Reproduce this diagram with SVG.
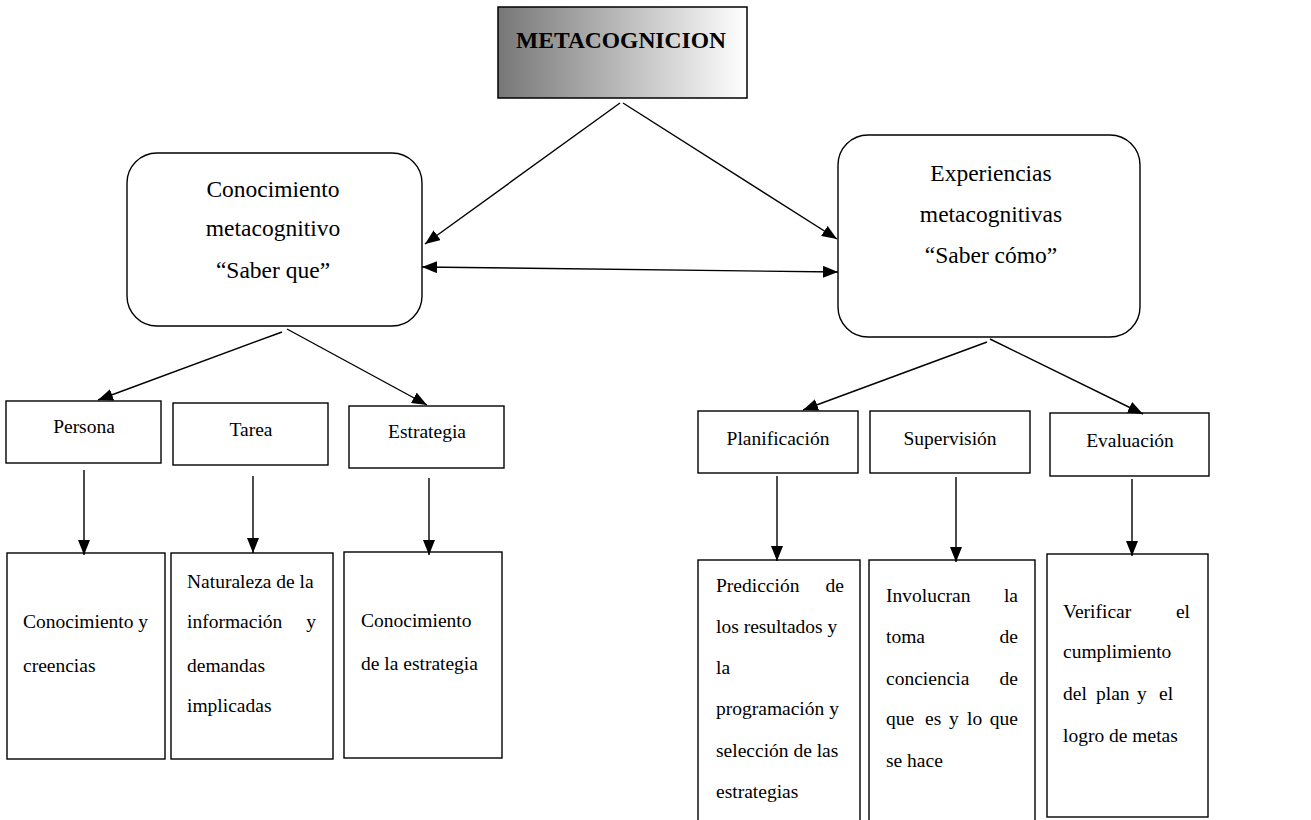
<svg xmlns="http://www.w3.org/2000/svg" width="1311" height="820" viewBox="0 0 1311 820">
<style>
.box{fill:#fff;stroke:#000;stroke-width:1.4}
.t{font-family:"Liberation Serif","Times New Roman",serif;font-size:19.5px;fill:#000}
.tb{font-family:"Liberation Serif","Times New Roman",serif;font-size:23.5px;fill:#000}
.ttl{font-family:"Liberation Serif","Times New Roman",serif;font-size:23.5px;font-weight:bold;fill:#000}
.c{text-anchor:middle}
.e{text-anchor:end}
.ln{fill:none;stroke:#000;stroke-width:1.4}
</style>
<defs>
<linearGradient id="g" x1="0" y1="0" x2="1" y2="0">
<stop offset="0" stop-color="#777"/>
<stop offset="1" stop-color="#fff"/>
</linearGradient>
<marker id="ah" markerWidth="15" markerHeight="12" refX="15" refY="6" orient="auto-start-reverse" markerUnits="userSpaceOnUse">
<path d="M0,0 L15,6 L0,12 z" fill="#000"/>
</marker>
</defs>
<rect width="1311" height="820" fill="#fff"/>

<g id="metacognicion">
<rect x="498" y="7" width="249" height="91" fill="url(#g)" stroke="#000" stroke-width="1.5"/>
<text class="ttl c" x="621" y="48">METACOGNICION</text>
</g>

<g id="conocimiento">
<rect class="box" x="127" y="153" width="295" height="173" rx="30" ry="30"/>
<text class="tb c" x="273" y="197">Conocimiento</text>
<text class="tb c" x="273" y="236">metacognitivo</text>
<text class="tb c" x="273" y="278">“Saber que”</text>
</g>

<g id="experiencias">
<rect class="box" x="838" y="135" width="302" height="202" rx="30" ry="30"/>
<text class="tb c" x="991" y="181">Experiencias</text>
<text class="tb c" x="991" y="222">metacognitivas</text>
<text class="tb c" x="991" y="263">“Saber cómo”</text>
</g>

<g id="persona">
<rect class="box" x="6" y="401" width="155" height="62"/>
<text class="t c" x="84" y="433">Persona</text>
</g>
<g id="tarea">
<rect class="box" x="173" y="403" width="155" height="62"/>
<text class="t c" x="251" y="436">Tarea</text>
</g>
<g id="estrategia">
<rect class="box" x="349" y="406" width="155" height="62"/>
<text class="t c" x="427" y="438">Estrategia</text>
</g>
<g id="planificacion">
<rect class="box" x="698" y="411" width="160" height="62"/>
<text class="t c" x="778" y="445">Planificación</text>
</g>
<g id="supervision">
<rect class="box" x="870" y="411" width="160" height="62"/>
<text class="t c" x="950" y="445">Supervisión</text>
</g>
<g id="evaluacion">
<rect class="box" x="1050" y="413" width="159" height="63"/>
<text class="t c" x="1130" y="447">Evaluación</text>
</g>

<g id="creencias">
<rect class="box" x="7" y="553" width="158" height="206"/>
<text class="t" x="23" y="628">Conocimiento y</text>
<text class="t" x="23" y="672">creencias</text>
</g>
<g id="naturaleza">
<rect class="box" x="171" y="553" width="162" height="206"/>
<text class="t" x="187" y="588">Naturaleza de la</text>
<text class="t" x="187" y="628">información</text>
<text class="t e" x="316" y="628">y</text>
<text class="t" x="187" y="672">demandas</text>
<text class="t" x="187" y="712">implicadas</text>
</g>
<g id="conoc-estrategia">
<rect class="box" x="344" y="552" width="158" height="206"/>
<text class="t" x="361" y="627">Conocimiento</text>
<text class="t" x="361" y="670">de la estrategia</text>
</g>
<g id="prediccion">
<rect class="box" x="698" y="560" width="162" height="275"/>
<text class="t" x="716" y="592">Predicción</text>
<text class="t e" x="844" y="592">de</text>
<text class="t" x="716" y="633">los resultados y</text>
<text class="t" x="716" y="674">la</text>
<text class="t" x="716" y="715">programación y</text>
<text class="t" x="716" y="757">selección de las</text>
<text class="t" x="716" y="798">estrategias</text>
</g>
<g id="involucran">
<rect class="box" x="869" y="560" width="166" height="275"/>
<text class="t" x="886" y="602">Involucran</text>
<text class="t e" x="1018" y="602">la</text>
<text class="t" x="886" y="643">toma</text>
<text class="t e" x="1018" y="643">de</text>
<text class="t" x="886" y="685">conciencia</text>
<text class="t e" x="1018" y="685">de</text>
<text class="t" x="886" y="725">que</text>
<text class="t" x="925" y="725">es</text>
<text class="t" x="949" y="725">y</text>
<text class="t" x="967" y="725">lo</text>
<text class="t e" x="1018" y="725">que</text>
<text class="t" x="886" y="767">se hace</text>
</g>
<g id="verificar">
<rect class="box" x="1047" y="554" width="161" height="263"/>
<text class="t" x="1063" y="618">Verificar</text>
<text class="t e" x="1190" y="618">el</text>
<text class="t" x="1063" y="658">cumplimiento</text>
<text class="t" x="1063" y="700">del</text>
<text class="t" x="1096" y="700">plan</text>
<text class="t" x="1137" y="700">y</text>
<text class="t" x="1159" y="700">el</text>
<text class="t" x="1063" y="742">logro de metas</text>
</g>

<g id="connectors">
<path class="ln" d="M620,103 L425,244" marker-end="url(#ah)"/>
<path class="ln" d="M623,103 L837,239" marker-end="url(#ah)"/>
<path class="ln" d="M422,267 L838,272" marker-start="url(#ah)" marker-end="url(#ah)"/>
<path class="ln" d="M282,332 L98,400" marker-end="url(#ah)"/>
<path class="ln" d="M287,329 L427,405" marker-end="url(#ah)"/>
<path class="ln" d="M987,342 L803,410" marker-end="url(#ah)"/>
<path class="ln" d="M990,339 L1143,414" marker-end="url(#ah)"/>
<path class="ln" d="M84,470 L84,555" marker-end="url(#ah)"/>
<path class="ln" d="M253,476 L253,553" marker-end="url(#ah)"/>
<path class="ln" d="M429,478 L429,555" marker-end="url(#ah)"/>
<path class="ln" d="M777,476 L777,561" marker-end="url(#ah)"/>
<path class="ln" d="M956,477 L956,562" marker-end="url(#ah)"/>
<path class="ln" d="M1132,479 L1132,556" marker-end="url(#ah)"/>
</g>
</svg>
